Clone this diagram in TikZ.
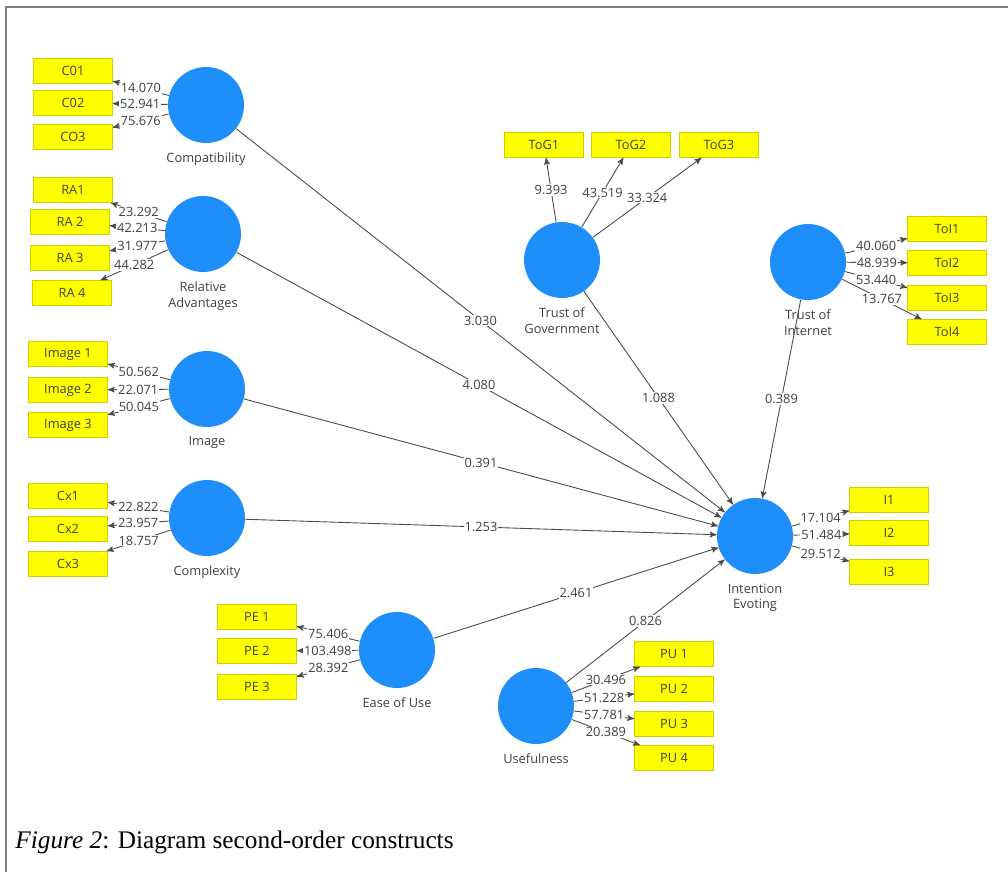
\documentclass[tikz,border=0pt]{standalone}
\usepackage{fontspec}
\setmainfont{Open Sans}
\newfontfamily\capfont{Liberation Serif}
\usepackage{xcolor}
\definecolor{lvblue}{HTML}{1E8EFA}
\definecolor{mvyellow}{HTML}{FFFF00}
\definecolor{mvedge}{HTML}{CFCF00}
\definecolor{txtgray}{HTML}{404040}
\definecolor{pathgray}{HTML}{4A4A4A}
\usepackage{tikz}
\usetikzlibrary{arrows,positioning}

\begin{document}
\begin{tikzpicture}[x=0.02cm,y=-0.02cm,->,>=stealth',line width=0.5pt,draw=pathgray,
    every node/.style={font=\fontsize{7.3}{9}\selectfont,text=txtgray}]
              \tikzstyle{lv}=[circle,fill=lvblue,draw=none,minimum size=1.52cm,inner sep=0pt]
              \tikzstyle{mv}=[rectangle,fill=mvyellow,draw=mvedge,line width=0.4pt,minimum width=1.58cm,minimum height=0.5cm,inner sep=0pt]
              \tikzstyle{lvtxt}=[align=center,inner sep=1pt]
              \tikzstyle{wt}=[fill=white,inner sep=0.6pt]

              \useasboundingbox (0,0) rectangle (1008,872);
              \fill[white] (0,0) rectangle (1008,872);
              \draw[-,line width=1.1pt,draw=gray] (6,872) -- (6,7) -- (1008,7);

              % constructs
              \node[lv] (comp)  at (206,105) {};
              \node[lv] (relad) at (203,234) {};
              \node[lv] (img)   at (207,389) {};
              \node[lv] (cplx)  at (207,518) {};
              \node[lv] (eou)   at (397,650) {};
              \node[lv] (use)   at (536,706) {};
              \node[lv] (tog)   at (562,260) {};
              \node[lv] (toi)   at (808,262) {};
              \node[lv] (ie)    at (755,536) {};

              \node[lvtxt] (compt)  [below=4pt of comp]  {Compatibility};
              \node[lvtxt] (reladt) [below=4pt of relad] {Relative\\Advantages};
              \node[lvtxt] (imgt)   [below=4pt of img]   {Image};
              \node[lvtxt] (cplxt)  [below=4pt of cplx]  {Complexity};
              \node[lvtxt] (eout)   [below=4pt of eou]   {Ease of Use};
              \node[lvtxt] (uset)   [below=4pt of use]   {Usefulness};
              \node[lvtxt] (togt)   [below=4pt of tog]   {Trust of\\Government};
              \node[lvtxt] (toit)   [below=4pt of toi]   {Trust of\\Internet};
              \node[lvtxt] (iet)    [below=4pt of ie]    {Intention\\Evoting};

              % indicators
              \node[mv] (c01) at (73,71)  {C01};
              \node[mv] (c02) at (73,103) {C02};
              \node[mv] (c03) at (73,137) {CO3};
              \node[mv] (ra1) at (73,190) {RA1};
              \node[mv] (ra2) at (70,222) {RA 2};
              \node[mv] (ra3) at (70,258) {RA 3};
              \node[mv] (ra4) at (72,293) {RA 4};
              \node[mv] (im1) at (68,354) {Image 1};
              \node[mv] (im2) at (68,390) {Image 2};
              \node[mv] (im3) at (68,425) {Image 3};
              \node[mv] (cx1) at (68,496) {Cx1};
              \node[mv] (cx2) at (68,529) {Cx2};
              \node[mv] (cx3) at (68,564) {Cx3};
              \node[mv] (pe1) at (257,617) {PE 1};
              \node[mv] (pe2) at (257,651) {PE 2};
              \node[mv] (pe3) at (257,687) {PE 3};
              \node[mv] (pu1) at (674,654) {PU 1};
              \node[mv] (pu2) at (674,689) {PU 2};
              \node[mv] (pu3) at (674,724) {PU 3};
              \node[mv] (pu4) at (674,758) {PU 4};
              \node[mv] (tog1) at (544,145) {ToG1};
              \node[mv] (tog2) at (631,145) {ToG2};
              \node[mv] (tog3) at (719,145) {ToG3};
              \node[mv] (toi1) at (947,229) {ToI1};
              \node[mv] (toi2) at (947,263) {ToI2};
              \node[mv] (toi3) at (947,298) {ToI3};
              \node[mv] (toi4) at (947,332) {ToI4};
              \node[mv] (i1) at (889,500) {I1};
              \node[mv] (i2) at (889,533) {I2};
              \node[mv] (i3) at (889,572) {I3};

              % outer loadings
              \path (comp) edge node[wt] {14.070} (c01)
                           edge node[wt] {52.941} (c02)
                           edge node[wt] {75.676} (c03)
                    (relad) edge node[wt] {23.292} (ra1)
                           edge node[wt] {42.213} (ra2)
                           edge node[wt] {31.977} (ra3)
                           edge node[wt] {44.282} (ra4)
                    (img)  edge node[wt] {50.562} (im1)
                           edge node[wt] {22.071} (im2)
                           edge node[wt] {50.045} (im3)
                    (cplx) edge node[wt] {22.822} (cx1)
                           edge node[wt] {23.957} (cx2)
                           edge node[wt] {18.757} (cx3)
                    (eou)  edge node[wt] {75.406} (pe1)
                           edge node[wt] {103.498} (pe2)
                           edge node[wt] {28.392} (pe3)
                    (use)  edge node[wt] {30.496} (pu1)
                           edge node[wt] {51.228} (pu2)
                           edge node[wt] {57.781} (pu3)
                           edge node[wt] {20.389} (pu4)
                    (tog)  edge node[wt] {9.393} (tog1)
                           edge node[wt] {43.519} (tog2)
                           edge node[wt] {33.324} (tog3)
                    (toi)  edge node[wt] {40.060} (toi1)
                           edge node[wt] {48.939} (toi2)
                           edge node[wt] {53.440} (toi3)
                           edge node[wt] {13.767} (toi4)
                    (ie)   edge node[wt] {17.104} (i1)
                           edge node[wt] {51.484} (i2)
                           edge node[wt] {29.512} (i3);

              % inner model
              \path (comp)  edge node[wt] {3.030} (ie)
                    (relad) edge node[wt] {4.080} (ie)
                    (img)   edge node[wt] {0.391} (ie)
                    (cplx)  edge node[wt] {1.253} (ie)
                    (eou)   edge node[wt] {2.461} (ie)
                    (use)   edge node[wt] {0.826} (ie)
                    (tog)   edge node[wt] {1.088} (ie)
                    (toi)   edge node[wt] {0.389} (ie);

              \node[anchor=west,inner sep=0pt,text=black,font=\capfont\fontsize{14.4}{17}\selectfont] (cap) at (15,842)
                   {\textit{Figure 2}: Diagram second-order constructs};
\end{tikzpicture}
\end{document}
